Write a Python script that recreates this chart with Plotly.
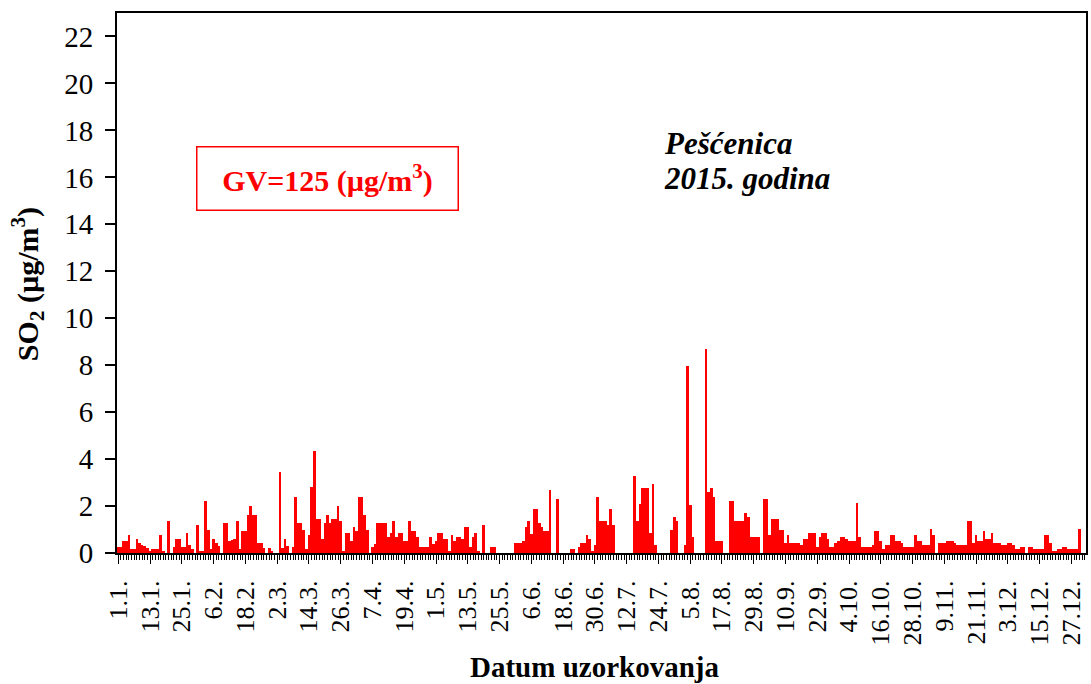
import pandas as pd
import plotly.graph_objects as go

# Daily SO2 concentrations (µg/m3), Pešćenica 2015
jan = [0.25, 0.25, 0.5, 0.5, 0.77, 0.15, 0.15, 0.6, 0.44, 0.36, 0.3, 0.2, 0.1, 0.15, 0.15, 0.15,
       0.77, 0.05, 0, 1.36, 0, 0.25, 0.6, 0.6, 0.25, 0.25, 0.86, 0.36, 0.15, 0, 1.2]
feb = [0.1, 0.1, 2.2, 1.0, 0.15, 0.6, 0.44, 0.3, 0, 1.27, 1.27, 0.5, 0.55, 0.6, 1.36, 0.15,
       0.94, 0.94, 1.6, 2.0, 1.6, 1.6, 0.44, 0.44, 0.2, 0, 0.2, 0.1]
mar = [0, 0, 3.45, 0.2, 0.6, 0.3, 0, 0.27, 2.37, 1.27, 1.27, 1.0, 0.15, 0.77, 2.8, 4.35,
       1.44, 1.44, 0.6, 1.27, 1.6, 1.27, 1.44, 1.44, 2.0, 1.36, 0.1, 0.86, 0.86, 0.5, 1.1]
apr = [0.94, 2.37, 2.37, 1.6, 1.0, 0, 0.25, 0.4, 1.27, 1.27, 1.27, 1.27, 0.69, 0.86, 1.36,
       0.69, 0.86, 0.86, 0.5, 0.5, 1.36, 0.94, 0.94, 0.69, 0.25, 0.25, 0.25, 0.25, 0.69, 0.4]
may = [0.5, 0.86, 0.86, 0.6, 0.6, 0.1, 0.77, 0.5, 0.69, 0.69, 0.6, 1.1, 1.1, 0.25, 0.69, 0.86,
       0.1, 0, 1.2, 0, 0, 0.25, 0.25, 0, 0, 0, 0, 0, 0, 0, 0.43]
jun = [0.43, 0.43, 0.5, 1.1, 1.36, 0.8, 1.86, 1.86, 1.27, 1.1, 0.94, 0.94, 2.7, 0, 0, 2.29,
       0, 0, 0, 0, 0.17, 0.17, 0, 0.25, 0.44, 0.44, 0.77, 0.6, 0.1, 0.33]
jul = [2.37, 1.36, 1.36, 1.36, 1.19, 1.86, 1.19, 0, 0, 0, 0, 0, 0, 0, 3.3, 1.36, 2.1, 2.79,
       2.79, 2.79, 0.84, 2.96, 0.36, 0, 0, 0, 0, 0, 1.0, 1.53, 1.36]
aug = [0, 0, 0.34, 7.95, 2.03, 0.69, 0, 0, 0, 0, 8.7, 2.6, 2.79, 2.37, 0.51, 0.51, 0.51, 0, 0,
       2.2, 2.2, 1.36, 1.36, 1.36, 1.36, 1.7, 1.53, 0.69, 0.69, 0.69, 0.69]
sep = [0, 2.29, 2.29, 0.77, 1.44, 1.44, 1.44, 1.0, 1.0, 0.44, 0.77, 0.44, 0.44, 0.44, 0.44,
       0.36, 0.6, 0.6, 0.86, 0.86, 0.86, 0.27, 0.69, 0.86, 0.86, 0.6, 0.25, 0.25, 0.43, 0.5]
oct_ = [0.69, 0.69, 0.6, 0.5, 0.5, 0.5, 2.11, 0.69, 0.25, 0.25, 0.25, 0.25, 0.34, 0.94, 0.94,
        0.5, 0.17, 0.34, 0.34, 0.77, 0.77, 0.5, 0.5, 0.43, 0.25, 0.25, 0.25, 0.25, 0.77, 0.5, 0.5]
nov = [0.34, 0.34, 0.34, 1.03, 0.77, 0, 0.43, 0.43, 0.43, 0.5, 0.5, 0.5, 0.43, 0.34, 0.34,
       0.34, 0.34, 1.36, 1.36, 0.43, 0.77, 0.5, 0.5, 0.94, 0.6, 0.6, 0.86, 0.43, 0.43, 0.43]
dec = [0.34, 0.34, 0.43, 0.43, 0.34, 0.17, 0.17, 0.25, 0.25, 0, 0.25, 0.25, 0.17, 0.17, 0.17,
       0.17, 0.77, 0.77, 0.43, 0.1, 0.1, 0.17, 0.17, 0.25, 0.25, 0.17, 0.17, 0.17, 0.17, 1.03, 0]

so2_values = jan + feb + mar + apr + may + jun + jul + aug + sep + oct_ + nov + dec
dates = pd.date_range("2015-01-01", periods=len(so2_values), freq="D")

tick_labels = ["1.1.", "13.1.", "25.1.", "6.2.", "18.2.", "2.3.", "14.3.", "26.3.", "7.4.",
               "19.4.", "1.5.", "13.5.", "25.5.", "6.6.", "18.6.", "30.6.", "12.7.", "24.7.",
               "5.8.", "17.8.", "29.8.", "10.9.", "22.9.", "4.10.", "16.10.", "28.10.", "9.11.",
               "21.11.", "3.12.", "15.12.", "27.12."]
tick_dates = pd.date_range("2015-01-01", periods=len(tick_labels), freq="12D")
y_ticks = [0, 2, 4, 6, 8, 10, 12, 14, 16, 18, 20, 22]

SERIF = "Liberation Serif, Times New Roman, serif"

fig = go.Figure(
    go.Bar(x=dates, y=so2_values, marker=dict(color="#FF0000", line=dict(width=0)),
           hoverinfo="x+y")
)

L, R, T, B = 117, 1088.5, 12.7, 553.5
W, H = 1091, 684


def px(x):
    return (x - L) / (R - L)


def py(y):
    return (B - y) / (B - T)


fig.update_layout(
    width=W, height=H,
    margin=dict(l=L, r=W - R, t=T, b=H - B, pad=0),
    paper_bgcolor="white", plot_bgcolor="white",
    bargap=0, showlegend=False,
    font=dict(family=SERIF, color="black"),
    xaxis=dict(
        type="date",
        range=[dates[0] - pd.Timedelta(hours=12), dates[0] + pd.Timedelta(days=365, hours=12)],
        tickmode="array", tickvals=tick_dates, ticktext=tick_labels,
        tickangle=-90, ticks="outside", ticklen=9, tickwidth=1, tickcolor="black",
        tickfont=dict(family=SERIF, size=26, color="black"),
        ticklabelstandoff=6,
        minor=dict(ticks="outside", ticklen=5, tickwidth=1, tickcolor="black",
                   dtick=86400000, tick0="2015-01-01"),
        showline=True, linecolor="black", linewidth=2, mirror=True,
        showgrid=False, zeroline=False,
    ),
    yaxis=dict(
        range=[0, 23], tickmode="array", tickvals=y_ticks,
        ticktext=[str(v) for v in y_ticks],
        ticks="outside", ticklen=10, tickwidth=1.5, tickcolor="black",
        tickfont=dict(family=SERIF, size=29, color="black"),
        ticklabelstandoff=6,
        showline=True, linecolor="black", linewidth=2, mirror=True,
        showgrid=False, zeroline=False,
    ),
    annotations=[
        dict(text="<b>GV=125 (µg/m<sup>3</sup>)</b>", xref="paper", yref="paper",
             x=px(328), y=py(178.4), xanchor="center", yanchor="middle",
             showarrow=False, font=dict(family=SERIF, size=30, color="#FF0000"),
             bordercolor="#FF0000", borderwidth=1.5, borderpad=0, width=260, height=62,
             bgcolor="white"),
        dict(text="<b><i>Pešćenica</i></b>", xref="paper", yref="paper",
             x=px(663), y=py(143), xanchor="left", yanchor="middle", showarrow=False,
             font=dict(family=SERIF, size=31, color="black")),
        dict(text="<b><i>2015. godina</i></b>", xref="paper", yref="paper",
             x=px(663), y=py(178), xanchor="left", yanchor="middle", showarrow=False,
             font=dict(family=SERIF, size=31, color="black")),
        dict(text="<b>SO<sub>2</sub> (µg/m<sup>3</sup>)</b>", xref="paper", yref="paper",
             x=px(27.5), y=py(284.5), xanchor="center", yanchor="middle", textangle=-90,
             showarrow=False, font=dict(family=SERIF, size=30, color="black")),
        dict(text="<b>Datum uzorkovanja</b>", xref="paper", yref="paper",
             x=px(595.5), y=py(668), xanchor="center", yanchor="middle",
             showarrow=False, font=dict(family=SERIF, size=29, color="black")),
    ],
)

fig.write_html("out.html")
